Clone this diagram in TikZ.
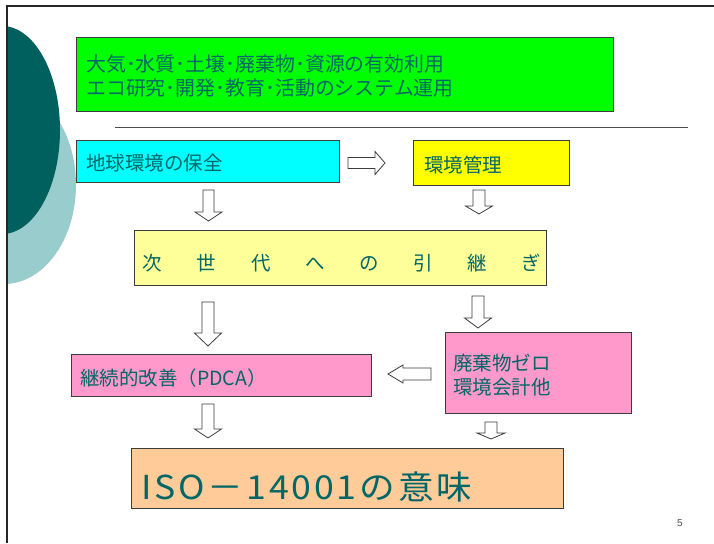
\documentclass[tikz,border=0pt]{standalone}
\usepackage{fontspec}
\setmainfont{Liberation Sans}
\newfontfamily\jp{Noto Sans CJK JP}
\newfontfamily\jpwide[LetterSpace=8]{Noto Sans CJK JP}
\definecolor{tealtxt}{RGB}{0,102,102}
\definecolor{darkteal}{RGB}{0,96,94}
\definecolor{lightteal}{RGB}{153,204,204}
\definecolor{boxline}{RGB}{60,60,60}
\definecolor{cgreen}{RGB}{0,255,0}
\definecolor{ccyan}{RGB}{0,255,255}
\definecolor{cyellow}{RGB}{255,255,0}
\definecolor{clyellow}{RGB}{255,255,153}
\definecolor{cpink}{RGB}{255,153,204}
\definecolor{corange}{RGB}{255,204,153}
\newcommand{\dnarr}[6]{% cx, top, headstart, tip, shaft half, head half
  \draw[blk] ({#1-#5},#2) -- ({#1+#5},#2) -- ({#1+#5},#3) -- ({#1+#6},#3) -- (#1,#4)
    -- ({#1-#6},#3) -- ({#1-#5},#3) -- cycle;}
\newcommand{\hzarr}[6]{% cy, tail, headstart, tip, shaft half, head half
  \draw[blk] (#2,{#1-#5}) -- (#3,{#1-#5}) -- (#3,{#1-#6}) -- (#4,#1) -- (#3,{#1+#6})
    -- (#3,{#1+#5}) -- (#2,{#1+#5}) -- cycle;}
\begin{document}
\begin{tikzpicture}[x=1pt,y=-1pt,
  box/.style={draw=boxline, line width=0.8pt, rectangle, inner sep=0pt, anchor=north west},
  tx/.style={anchor=base west, inner sep=0pt, text=tealtxt, font=\jp\fontsize{19.5}{24}\selectfont},
  blk/.style={draw=boxline, fill=white, line width=0.8pt, line join=miter}]
\useasboundingbox (0,0) rectangle (714,543);
\fill[white] (0,0) rectangle (714,543);
% decorative ellipses
\begin{scope}
  \clip (7,0) rectangle (714,543);
  \fill[lightteal] (4,185) ellipse [x radius=72pt, y radius=99pt];
  \fill[darkteal] (2,130) ellipse [x radius=58pt, y radius=104pt];
\end{scope}
% slide frame
\draw[black!85, line width=2pt] (7,543) -- (7,6) -- (714,6);
% boxes
\node[box, fill=cgreen, minimum width=537pt, minimum height=74pt] (env) at (76,37) {};
\node[tx, font=\jp\fontsize{19.9}{24}\selectfont] (envt1) at (86,71) {大気･水質･土壌･廃棄物･資源の有効利用};
\node[tx, font=\jp\fontsize{19.9}{24}\selectfont] (envt2) at (86,95) {エコ研究･開発･教育･活動のシステム運用};
\draw[black!70, line width=0.8pt] (115,127) -- (688,127);
\node[box, fill=ccyan, minimum width=263pt, minimum height=42pt] (earth) at (76,140) {};
\node[tx] (eartht) at (86,170.5) {地球環境の保全};
\node[box, fill=cyellow, minimum width=156pt, minimum height=45pt] (mgmt) at (413,140) {};
\node[tx] (mgmtt) at (424,172.5) {環境管理};
\node[box, fill=clyellow, minimum width=412pt, minimum height=55pt] (next) at (134,230) {};
\foreach \c [count=\i from 0] in {次,世,代,へ,の,引,継,ぎ}
  \node[anchor=base, inner sep=0pt, text=tealtxt, font=\jp\fontsize{19.5}{24}\selectfont]
    (nc\i) at ({152.5+54.15*\i},270) {\c};
\node[box, fill=cpink, minimum width=300pt, minimum height=42pt] (pdca) at (71,354) {};
\node[tx] (pdcat) at (80,385) {継続的改善（PDCA）};
\node[box, fill=cpink, minimum width=186pt, minimum height=81pt] (zero) at (445,332) {};
\node[tx] (zerot1) at (453,370.5) {廃棄物ゼロ};
\node[tx] (zerot2) at (453,394.5) {環境会計他};
\node[box, fill=corange, minimum width=432pt, minimum height=60pt] (iso) at (131,448) {};
\node[tx, font=\jpwide\fontsize{33}{33}\selectfont] (isot) at (141,499) {\scalebox{1.08}[1]{ISO－14001の意味}};
% block arrows
\hzarr{163}{348}{375}{385}{5.5}{11.5}
\hzarr{374}{431}{403}{388}{6}{9}
\dnarr{208.5}{190}{212}{221}{5.5}{13.5}
\dnarr{479}{190}{206}{214}{6}{13.5}
\dnarr{208}{302}{333}{346}{6}{13.5}
\dnarr{478}{296}{318}{328}{6}{13.5}
\dnarr{208}{404}{429}{438}{6}{13.5}
\dnarr{491}{422}{433}{439}{6}{14}
% page number
\node[inner sep=0pt, text=black!70, font=\fontsize{10}{10}\selectfont] (pg) at (680,523) {5};
\end{tikzpicture}
\end{document}
